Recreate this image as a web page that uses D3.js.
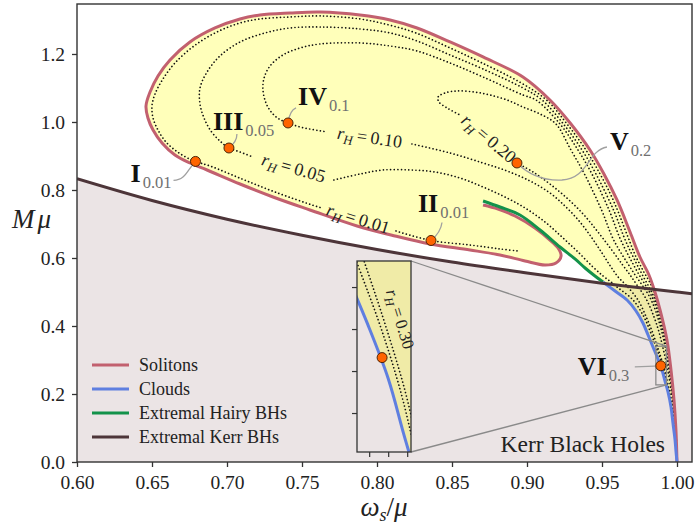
<!DOCTYPE html>
<html>
<head>
<meta charset="utf-8">
<script src="https://cdn.jsdelivr.net/npm/d3@7"></script>
<style>
  body { margin: 0; background: #fff; }
  svg text { font-family: "Liberation Serif", "DejaVu Serif", serif; }
</style>
</head>
<body>
<div id="chart"></div>
<script>
// ---- data: [omega_s/mu, M mu] ----
const solitons = [
  [1.0, 0.0], [0.9993, 0.0941], [0.998, 0.1824], [0.996, 0.2706], [0.9933, 0.3588], [0.9887, 0.4471],
  [0.9853, 0.5], [0.9813, 0.55], [0.9753, 0.6029], [0.9687, 0.6765], [0.96, 0.7706], [0.9513, 0.8471],
  [0.942, 0.9176], [0.9293, 0.9941], [0.9153, 1.0647], [0.8973, 1.1324], [0.8707, 1.1912], [0.8487, 1.2353],
  [0.8267, 1.2765], [0.8087, 1.3], [0.7887, 1.3147], [0.762, 1.3235], [0.742, 1.3206], [0.722, 1.3147],
  [0.7087, 1.3029], [0.692, 1.2765], [0.6753, 1.2353], [0.662, 1.1824], [0.654, 1.1353], [0.6487, 1.0882],
  [0.646, 1.0471], [0.6473, 1.0118], [0.6507, 0.9765], [0.6567, 0.9382], [0.6653, 0.9029], [0.6753, 0.8794],
  [0.6867, 0.8588], [0.7087, 0.8176], [0.7307, 0.7794], [0.7553, 0.7412], [0.7867, 0.6941], [0.812, 0.6647],
  [0.8353, 0.6412], [0.862, 0.6235], [0.882, 0.6088], [0.8987, 0.5912], [0.912, 0.5794], [0.9193, 0.5853],
  [0.9227, 0.6059], [0.9207, 0.6294], [0.9153, 0.6529], [0.9053, 0.6882], [0.892, 0.7235], [0.8807, 0.7441],
  [0.8707, 0.7559]
];
const extremalHairy = [
  [0.8707, 0.7676], [0.882, 0.75], [0.8953, 0.7265], [0.9087, 0.6824], [0.922, 0.6324], [0.932, 0.5971],
  [0.9387, 0.5706], [0.9453, 0.5471], [0.9507, 0.5294]
];
const clouds = [
  [0.9507, 0.5294], [0.9587, 0.5029], [0.9667, 0.4765], [0.9727, 0.4441], [0.9773, 0.4088], [0.9807, 0.3735],
  [0.984, 0.3382], [0.9873, 0.3029], [0.99, 0.2706], [0.992, 0.2382], [0.994, 0.2059], [0.996, 0.1618],
  [0.9973, 0.1147], [0.9987, 0.0647], [0.9993, 0.0324], [1.0, 0.0]
];
const extremalKerr = [
  [0.6, 0.833], [0.65, 0.769], [0.7, 0.714], [0.75, 0.667], [0.8, 0.625], [0.85, 0.588],
  [0.9, 0.556], [0.95, 0.526], [1.0, 0.5], [1.01, 0.495]
];

// constant r_H lines (each split where its inline label sits)
const rh001Outer = [
  [0.9997, 0.0412], [0.9991, 0.1088], [0.9979, 0.1853], [0.996, 0.2618], [0.9937, 0.3382], [0.9919, 0.3824],
  [0.9895, 0.4265], [0.9863, 0.4765], [0.9827, 0.5206], [0.9772, 0.5647], [0.9721, 0.6088], [0.9681, 0.6529],
  [0.9642, 0.6971], [0.9603, 0.7412], [0.9553, 0.7912], [0.9487, 0.8471], [0.9393, 0.9176], [0.9267, 0.9941],
  [0.913, 1.0647], [0.895, 1.1176], [0.8687, 1.1765], [0.8473, 1.2206], [0.826, 1.2618], [0.808, 1.2853],
  [0.7887, 1.3029], [0.762, 1.3118], [0.742, 1.3088], [0.722, 1.3029], [0.7087, 1.2912], [0.6933, 1.2647],
  [0.678, 1.2235], [0.6653, 1.1735], [0.6573, 1.1265], [0.652, 1.0824], [0.65, 1.0471], [0.6507, 1.0118],
  [0.654, 0.9765], [0.6593, 0.9412], [0.668, 0.9088], [0.678, 0.8853], [0.6887, 0.8706], [0.71, 0.8324],
  [0.732, 0.7941], [0.7567, 0.7559], [0.762, 0.7485]
];
const rh001Inner = [[0.8127, 0.6794], [0.836, 0.6515], [0.862, 0.6382], [0.882, 0.6265], [0.894, 0.6206]];

const rh005Outer = [
  [0.9996, 0.0647], [0.9984, 0.1471], [0.9968, 0.2235], [0.9946, 0.3], [0.9915, 0.3824], [0.9855, 0.4765],
  [0.9752, 0.5647], [0.9655, 0.6529], [0.9577, 0.7412], [0.946, 0.8471], [0.9367, 0.9176], [0.9243, 0.9941],
  [0.91, 1.0647], [0.8973, 1.1], [0.8707, 1.1559], [0.8487, 1.1971], [0.8267, 1.2382], [0.8087, 1.2618],
  [0.7887, 1.2735], [0.762, 1.2794], [0.742, 1.2765], [0.7253, 1.2618], [0.7087, 1.2353], [0.6953, 1.1941],
  [0.6867, 1.1471], [0.682, 1.1], [0.682, 1.0529], [0.6847, 1.0118], [0.6893, 0.9735], [0.6953, 0.9441],
  [0.7013, 0.9235], [0.7087, 0.9118], [0.7173, 0.8971]
];
const rh005Inner = [
  [0.7713, 0.8294], [0.7887, 0.8471], [0.804, 0.8588], [0.822, 0.8588], [0.8387, 0.8529], [0.8553, 0.8353],
  [0.8707, 0.8088], [0.8853, 0.7794], [0.8987, 0.7471], [0.912, 0.7059], [0.9233, 0.6618], [0.934, 0.6176],
  [0.944, 0.5735], [0.9507, 0.5471], [0.956, 0.5294], [0.96, 0.5147], [0.9707, 0.4765], [0.978, 0.4265],
  [0.9823, 0.3824], [0.986, 0.3382], [0.9891, 0.3], [0.9917, 0.2618], [0.9937, 0.2235], [0.9955, 0.1853],
  [0.9968, 0.1471], [0.9978, 0.1088], [0.9989, 0.0647]
];

const rh010Outer = [
  [0.9995, 0.0647], [0.9983, 0.1471], [0.9965, 0.2235], [0.9941, 0.3], [0.9907, 0.3824], [0.9843, 0.4765],
  [0.9729, 0.5647], [0.9625, 0.6529], [0.9547, 0.7412], [0.9433, 0.8471], [0.934, 0.9176], [0.922, 0.9941],
  [0.906, 1.0647], [0.8973, 1.0794], [0.8707, 1.1324], [0.8487, 1.1735], [0.8267, 1.2088], [0.8087, 1.2235],
  [0.7887, 1.2324], [0.762, 1.2294], [0.7487, 1.2176], [0.7373, 1.1971], [0.7287, 1.1647], [0.7247, 1.1294],
  [0.724, 1.0941], [0.726, 1.0559], [0.73, 1.0265], [0.7347, 1.0088], [0.7407, 0.9971], [0.7487, 0.9853],
  [0.7667, 0.9706]
];
const rh010Inner = [
  [0.8233, 0.9353], [0.8487, 0.9088], [0.8707, 0.8794], [0.8867, 0.8559], [0.902, 0.8265], [0.9153, 0.7912],
  [0.926, 0.75], [0.9353, 0.7059], [0.9433, 0.6588], [0.95, 0.6147], [0.956, 0.5735], [0.9613, 0.5412],
  [0.966, 0.5206], [0.974, 0.4765], [0.9795, 0.4265], [0.9836, 0.3824], [0.987, 0.3382], [0.9898, 0.3],
  [0.9923, 0.2618], [0.9942, 0.2235], [0.9959, 0.1853], [0.9971, 0.1471], [0.998, 0.1088], [0.999, 0.0647]
];

const rh020Outer = [
  [0.9995, 0.0647], [0.9981, 0.1471], [0.9963, 0.2235], [0.9936, 0.3], [0.9899, 0.3824], [0.9828, 0.4765],
  [0.9699, 0.5647], [0.9578, 0.6529], [0.9497, 0.7412], [0.9383, 0.8471], [0.9293, 0.9176], [0.9193, 0.9941],
  [0.9087, 1.0235], [0.8973, 1.0441], [0.8867, 1.0647], [0.8753, 1.0794], [0.8647, 1.0882], [0.8533, 1.0912],
  [0.8453, 1.0853], [0.8407, 1.0735], [0.8413, 1.0588], [0.8467, 1.0412], [0.8553, 1.0206]
];
const rh020Inner = [
  [0.8933, 0.8794], [0.904, 0.8529], [0.9153, 0.8176], [0.9273, 0.7735], [0.938, 0.7265], [0.9473, 0.6765],
  [0.956, 0.6265], [0.9633, 0.5824], [0.9687, 0.55], [0.9733, 0.5206], [0.9798, 0.4765], [0.9847, 0.4265],
  [0.988, 0.3824], [0.9905, 0.3382], [0.9925, 0.3], [0.9942, 0.2618], [0.9956, 0.2235], [0.9969, 0.1853],
  [0.9978, 0.1471], [0.9985, 0.1088], [0.9993, 0.0647]
];

const rhLabels = ["0.01", "0.05", "0.10", "0.20"];

const markerNames = ["I", "II", "III", "IV", "V", "VI"];
const markerSubs = ["0.01", "0.01", "0.05", "0.1", "0.2", "0.3"];
const markerPoints = [[0.679, 0.884], [0.836, 0.6515], [0.7013, 0.9235], [0.7407, 0.9971], [0.8933, 0.8794], [0.9892, 0.283]];

const xTicks = [0.60, 0.65, 0.70, 0.75, 0.80, 0.85, 0.90, 0.95, 1.00];
const yTicks = [0.0, 0.2, 0.4, 0.6, 0.8, 1.0, 1.2];
const insetXTicks = [0.9875, 0.99, 0.9925];
const insetYTicks = [0.25, 0.275, 0.3, 0.325];

const legendNames = ["Solitons", "Clouds", "Extremal Hairy BHs", "Extremal Kerr BHs"];
const legendColors = ["#c2606f", "#5f7fe0", "#13924a", "#4d3539"];

// ---- layout ----
const W = 696, H = 525;
const plot = { left: 77, top: 4, right: 692, bottom: 462 };
const inset = { left: 357, top: 261, right: 411, bottom: 452 };

const svg = d3.select("#chart").append("svg").attr("width", W).attr("height", H);

const x = d3.scaleLinear().domain([0.6, 1.01]).range([plot.left, plot.right]);
const y = d3.scaleLinear().domain([0, 1.347]).range([plot.bottom, plot.top]);
const ix = d3.scaleLinear().domain([0.9859, 0.9930]).range([inset.left, inset.right]);
const iy = d3.scaleLinear().domain([0.2268, 0.3405]).range([inset.bottom, inset.top]);

const kerrFill = "#ebe4e5";
const dotStyle = s => s.attr("fill", "none").attr("stroke", "#111").attr("stroke-width", 1.7)
  .attr("stroke-linecap", "round").attr("stroke-dasharray", "0.01,3.6");

const defs = svg.append("defs");
defs.append("clipPath").attr("id", "clipMain").append("rect")
  .attr("x", plot.left).attr("y", plot.top).attr("width", plot.right - plot.left).attr("height", plot.bottom - plot.top);
defs.append("clipPath").attr("id", "clipInset").append("rect")
  .attr("x", inset.left).attr("y", inset.top).attr("width", inset.right - inset.left).attr("height", inset.bottom - inset.top);

function drawRegion(g, sx, sy, dotted, withOuter) {
  const line = d3.line().x(d => sx(d[0])).y(d => sy(d[1])).curve(d3.curveCatmullRom.alpha(0.5));

  // Kerr black hole region below the extremal Kerr line
  g.append("path").attr("d", line(extremalKerr) + `L${sx(1.01)},${sy(0)}L${sx(0.6)},${sy(0)}Z`).attr("fill", kerrFill);

  // hairy black hole domain
  g.append("path").attr("d", line(solitons.concat(extremalHairy, clouds)) + "Z")
    .attr("fill", "#ffff00").attr("fill-opacity", 0.27);

  dotted.forEach(arr => g.append("path").attr("d", line(arr)).call(dotStyle));

  if (withOuter) {
    g.append("path").attr("d", line(solitons)).attr("fill", "none").attr("stroke", legendColors[0]).attr("stroke-width", 3);
    g.append("path").attr("d", line(extremalHairy)).attr("fill", "none").attr("stroke", legendColors[2]).attr("stroke-width", 3);
  }
  g.append("path").attr("d", line(clouds)).attr("fill", "none").attr("stroke", legendColors[1]).attr("stroke-width", 3);
  if (withOuter) {
    g.append("path").attr("d", line(extremalKerr)).attr("fill", "none").attr("stroke", legendColors[3]).attr("stroke-width", 3);
  }
}

// ---- main panel ----
const main = svg.append("g").attr("clip-path", "url(#clipMain)");
drawRegion(main, x, y,
  [rh001Outer, rh001Inner, rh005Outer, rh005Inner, rh010Outer, rh010Inner, rh020Outer, rh020Inner], true);

// inline r_H labels
function rhText(g, value, cx, cy, angle, size) {
  const t = g.append("text")
    .attr("transform", `translate(${cx},${cy}) rotate(${angle})`)
    .attr("text-anchor", "middle").attr("dy", "0.3em")
    .attr("font-size", size).attr("fill", "#222");
  t.append("tspan").attr("font-style", "italic").text("r");
  t.append("tspan").attr("font-style", "italic").attr("font-size", size * 0.72).attr("dy", size * 0.22).text("H");
  t.append("tspan").attr("dy", -size * 0.22).text("\u2009=\u2009" + value);
}
const labelPairs = [[rh001Outer, rh001Inner], [rh005Outer, rh005Inner], [rh010Outer, rh010Inner], [rh020Outer, rh020Inner]];
labelPairs.forEach((p, i) => {
  const a = p[0][p[0].length - 1], b = p[1][0];
  const ax = x(a[0]), ay = y(a[1]), bx = x(b[0]), by = y(b[1]);
  const ang = Math.atan2(by - ay, bx - ax) * 180 / Math.PI;
  rhText(svg, rhLabels[i], (ax + bx) / 2, (ay + by) / 2, ang, 18);
});

// zoom rectangle and connectors
const annot = svg.append("g").attr("fill", "none").attr("stroke", "#8a8a8a").attr("stroke-width", 1.3);
const rx0 = x(ix.domain()[0]), rx1 = x(ix.domain()[1]), ry0 = y(iy.domain()[1]), ry1 = y(iy.domain()[0]);
annot.append("rect").attr("x", rx0).attr("y", ry0).attr("width", rx1 - rx0).attr("height", ry1 - ry0);
annot.append("line").attr("x1", inset.right).attr("y1", inset.top).attr("x2", rx1).attr("y2", ry0);
annot.append("line").attr("x1", inset.right).attr("y1", inset.bottom).attr("x2", rx1).attr("y2", ry1);

// marker labels: offsets of text and leader path relative to the marker (px)
const labelLayout = [
  { tx: -65, ty: 21, path: "M-22,19 C-10,19 -8,8 0,0" },
  { tx: -13, ty: -28, path: "M11,-18 C10,-10 6,-5 0,0" },
  { tx: -16, ty: -18, path: "M8,-14 C8,-8 5,-4 0,0" },
  { tx: 10, ty: -18, path: "M8,-15 C3,-13 1,-8 0,0" },
  { tx: 93, ty: -13, path: "M90,-16 C70,-12 72,15 45,17 C25,18 10,10 0,0" },
  { tx: -83, ty: 9, path: "M-26,1 L0,0" }
];
markerPoints.forEach((p, i) => {
  const mx = x(p[0]), my = y(p[1]), L = labelLayout[i];
  svg.append("path").attr("transform", `translate(${mx},${my})`).attr("d", L.path)
    .attr("fill", "none").attr("stroke", "#a0a0a0").attr("stroke-width", 1.3);
  const t = svg.append("text").attr("x", mx + L.tx).attr("y", my + L.ty);
  t.append("tspan").attr("font-weight", "bold").attr("font-size", 26).attr("fill", "#111").text(markerNames[i]);
  t.append("tspan").attr("font-size", 16.5).attr("fill", "#707070").attr("dx", 2).attr("dy", 6).text(markerSubs[i]);
});
svg.append("g").selectAll("circle").data(markerPoints).join("circle")
  .attr("cx", d => x(d[0])).attr("cy", d => y(d[1])).attr("r", 5)
  .attr("fill", "#ff6400").attr("stroke", "#3a1800").attr("stroke-width", 0.9);

// Kerr label
svg.append("text").attr("x", 665).attr("y", 452).attr("text-anchor", "end")
  .attr("font-size", 23.5).attr("fill", "#222").text("Kerr Black Holes");

// ---- inset ----
svg.append("rect").attr("x", inset.left).attr("y", inset.top)
  .attr("width", inset.right - inset.left).attr("height", inset.bottom - inset.top).attr("fill", "#fff");
const ins = svg.append("g").attr("clip-path", "url(#clipInset)");
drawRegion(ins, ix, iy, [rh005Inner, rh010Inner], false);
ins.append("circle").attr("cx", ix(markerPoints[5][0])).attr("cy", iy(markerPoints[5][1])).attr("r", 5)
  .attr("fill", "#ff6400").attr("stroke", "#3a1800").attr("stroke-width", 0.9);
rhText(svg, "0.30", ix(0.9915), iy(0.3058), 73, 17);
svg.append("rect").attr("x", inset.left).attr("y", inset.top)
  .attr("width", inset.right - inset.left).attr("height", inset.bottom - inset.top)
  .attr("fill", "none").attr("stroke", "#333").attr("stroke-width", 1.3);
svg.append("g").attr("transform", `translate(0,${inset.bottom})`)
  .call(d3.axisBottom(ix).tickValues(insetXTicks).tickSize(5).tickFormat(""))
  .call(g => g.select(".domain").remove())
  .call(g => g.selectAll("line").attr("stroke", "#333").attr("stroke-width", 1.2));
svg.append("g").attr("transform", `translate(${inset.left},0)`)
  .call(d3.axisLeft(iy).tickValues(insetYTicks).tickSize(5).tickFormat(""))
  .call(g => g.select(".domain").remove())
  .call(g => g.selectAll("line").attr("stroke", "#333").attr("stroke-width", 1.2));

// ---- axes and frame ----
svg.append("rect").attr("x", plot.left).attr("y", plot.top)
  .attr("width", plot.right - plot.left).attr("height", plot.bottom - plot.top)
  .attr("fill", "none").attr("stroke", "#333").attr("stroke-width", 1.4);
const xAxis = svg.append("g").attr("transform", `translate(0,${plot.bottom})`)
  .call(d3.axisBottom(x).tickValues(xTicks).tickFormat(d3.format(".2f")).tickSize(5).tickPadding(8));
const yAxis = svg.append("g").attr("transform", `translate(${plot.left},0)`)
  .call(d3.axisLeft(y).tickValues(yTicks).tickFormat(d3.format(".1f")).tickSize(5).tickPadding(7));
[xAxis, yAxis].forEach(a => {
  a.select(".domain").remove();
  a.selectAll("line").attr("stroke", "#333").attr("stroke-width", 1.3);
  a.selectAll("text").attr("font-family", "'Liberation Serif', serif").attr("font-size", 19.5).attr("fill", "#222");
});

const yl = svg.append("text").attr("x", 12).attr("y", 228).attr("font-size", 27).attr("fill", "#222");
yl.append("tspan").attr("font-style", "italic").text("M");
yl.append("tspan").attr("font-style", "italic").attr("dx", 3).text("μ");

const xl = svg.append("text").attr("x", 384).attr("y", 516).attr("text-anchor", "middle").attr("font-size", 27).attr("fill", "#222");
xl.append("tspan").attr("font-style", "italic").text("ω");
xl.append("tspan").attr("font-style", "italic").attr("font-size", 18).attr("dy", 5).text("s");
xl.append("tspan").attr("dy", -5).text("/");
xl.append("tspan").attr("font-style", "italic").text("μ");

// ---- legend ----
const legend = svg.append("g").selectAll("g").data(legendNames).join("g")
  .attr("transform", (d, i) => `translate(92,${365 + i * 24})`);
legend.append("line").attr("x1", 0).attr("x2", 37).attr("stroke", (d, i) => legendColors[i]).attr("stroke-width", 3);
legend.append("text").attr("x", 47).attr("y", 5.5).attr("font-size", 18).attr("fill", "#222").text(d => d);
</script>
</body>
</html>
